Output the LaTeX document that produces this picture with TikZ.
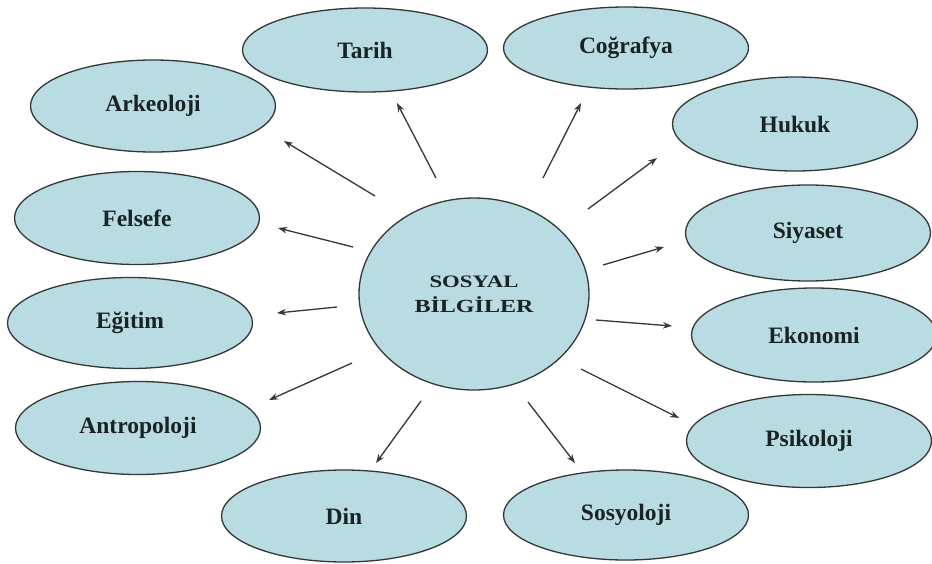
\documentclass[tikz,border=0pt]{standalone}
\usepackage{fontspec}
\setmainfont{Liberation Serif}
\usetikzlibrary{shapes.geometric,arrows.meta}
\definecolor{fillblue}{RGB}{185,219,226}
\definecolor{edgegray}{RGB}{50,56,56}
\definecolor{ink}{RGB}{25,35,35}
\begin{document}
\begin{tikzpicture}[x=1pt,y=-1pt,
  topic/.style={ellipse, draw=edgegray, line width=1.3pt, fill=fillblue,
    minimum width=245pt, minimum height=92pt, inner sep=0pt,
    font=\fontsize{23.5}{27}\selectfont\bfseries, text=ink},
  hub/.style={ellipse, draw=edgegray, line width=1.3pt, fill=fillblue,
    minimum width=230pt, minimum height=192pt, inner sep=0pt, text=ink,
    align=center, font=\fontsize{18}{25}\selectfont\bfseries},
  arr/.style={draw=edgegray, line width=1.3pt, -{Stealth[length=9pt,width=6.5pt]}}]
\useasboundingbox (0,0) rectangle (932,563);
\fill[white] (0,0) rectangle (932,563);

% hub
\node[hub] (c) at (474,294) {%
  \scalebox{1.3}[1]{\fontsize{17.5}{18}\selectfont SOSYAL}\\
  \scalebox{1.3}[1]{\fontsize{18.5}{20}\selectfont BİLGİLER}};

% topics
\node[topic, minimum height=84pt] (tarih) at (365,50) {Tarih};
\node[topic, minimum height=82pt] (cog) at (626,48) {Coğrafya};
\node[topic] (ark) at (153,106) {Arkeoloji};
\node[topic, minimum height=94pt] (huk) at (795,124) {Hukuk};
\node[topic, minimum height=93pt] (fel) at (137,218) {Felsefe};
\node[topic, minimum height=96pt] (siy) at (808,233) {Siyaset};
\node[topic, minimum height=91pt] (egi) at (130,323) {Eğitim};
\node[topic, minimum height=94pt] (eko) at (814,335) {Ekonomi};
\node[topic, minimum height=93pt] (ant) at (138,428) {Antropoloji};
\node[topic, minimum height=93pt] (psi) at (809,441) {Psikoloji};
\node[topic] (din) at (344,516) {Din};
\node[topic, minimum height=90pt] (sos) at (626,515) {Sosyoloji};

% arrow ends (arrows float between hub and topics)
\coordinate (s-tarih) at (436,178); \coordinate (e-tarih) at (397,103);
\coordinate (s-cog) at (543,178);   \coordinate (e-cog) at (581,103);
\coordinate (s-ark) at (375,196);   \coordinate (e-ark) at (284,141);
\coordinate (s-huk) at (588,209);   \coordinate (e-huk) at (657,158);
\coordinate (s-fel) at (353,247);   \coordinate (e-fel) at (278,228);
\coordinate (s-siy) at (603,265);   \coordinate (e-siy) at (664,247);
\coordinate (s-egi) at (337,307);   \coordinate (e-egi) at (277,313);
\coordinate (s-eko) at (596,320);   \coordinate (e-eko) at (672,326);
\coordinate (s-ant) at (352,363);   \coordinate (e-ant) at (269,400);
\coordinate (s-psi) at (581,369);   \coordinate (e-psi) at (679,418);
\coordinate (s-din) at (421,401);   \coordinate (e-din) at (376,463);
\coordinate (s-sos) at (528,402);   \coordinate (e-sos) at (575,463);

\foreach \n in {tarih,cog,ark,huk,fel,siy,egi,eko,ant,psi,din,sos}
  \draw[arr] (s-\n) -- (e-\n);
\end{tikzpicture}
\end{document}
